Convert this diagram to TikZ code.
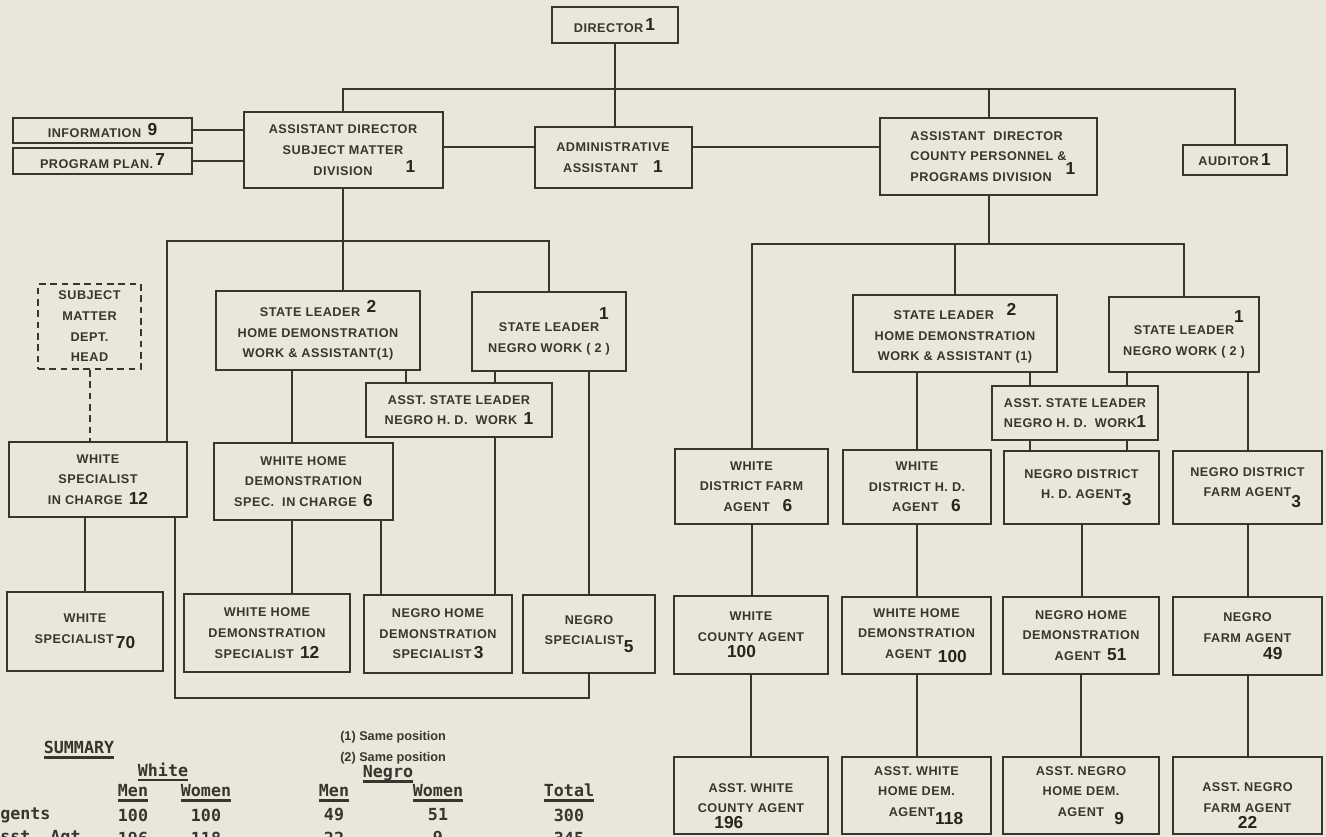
\documentclass[tikz,border=0pt]{standalone}
\usepackage{fontspec}
\setmainfont{Liberation Sans}
\setmonofont{DejaVu Sans Mono}
\newfontfamily\boxfont{Liberation Sans}[LetterSpace=4]
\usepackage{tikz}
\usepackage{xcolor}

\definecolor{paper}{RGB}{234,230,218}
\definecolor{ink}{RGB}{58,52,47}
\definecolor{stamp}{RGB}{40,36,33}

\newcommand{\cnt}[1]{{\normalfont\fontsize{13}{13}\selectfont\bfseries\color{stamp}#1}}
\newcommand{\ulthick}[1]{\setbox0\hbox{#1}\rlap{\rule[-4pt]{\wd0}{2pt}}\box0}
\newcommand{\lowr}{\rule{0pt}{22pt}}

\begin{document}
\begin{tikzpicture}[x=0.75pt, y=-0.75pt,
    box/.style={draw=ink, line width=1.5pt, fill=paper, text=ink, align=center, inner sep=2pt,
        font=\boxfont\fontsize{9.5}{15.5}\selectfont\bfseries},
    sz/.style 2 args={minimum width=#1*0.75pt, minimum height=#2*0.75pt},
    link/.style={draw=ink, line width=1.5pt},
    tab/.style={text=ink, inner sep=0pt, font=\fontsize{12.5}{13}\selectfont\ttfamily\bfseries},
    note/.style={text=ink, inner sep=0pt, anchor=west, font=\fontsize{9.5}{10}\selectfont\bfseries}]
    % page
    \useasboundingbox (0,0) rectangle (1326,837);
    \clip (0,0) rectangle (1326,837);
    \fill[paper] (0,0) rectangle (1326,837);
    % top
    \node[box, sz={126}{36}] (dir) at (614.5,25.5) {DIRECTOR\,\raisebox{1pt}{\cnt{1}}};
    \node[box, sz={179}{25}] (info) at (102.5,130.5) {INFORMATION\enspace\raisebox{2pt}{\cnt{9}}};
    \node[box, sz={179}{26}] (prog) at (102.5,161) {PROGRAM PLAN.\,\raisebox{2pt}{\cnt{7}}};
    \node[box, sz={199}{76}] (smdiv) at (343,150) {ASSISTANT DIRECTOR\\SUBJECT MATTER\\DIVISION\rlap{\hspace{2.6em}\raisebox{2pt}{\cnt{1}}}};
    \node[box, sz={157}{61}] (admin) at (613,157.5) {ADMINISTRATIVE\\ASSISTANT\hspace{1.2em}\cnt{1}};
    \node[box, sz={217}{77}, align=left] (cty) at (988.5,156.5) {ASSISTANT\ \ DIRECTOR\\COUNTY PERSONNEL \&\\PROGRAMS DIVISION\rlap{\hspace{1.1em}\raisebox{5pt}{\cnt{1}}}};
    \node[box, sz={104}{30}] (aud) at (1234.5,160) {AUDITOR\,\cnt{1}};
    % subject matter side
    \node[box, sz={103}{85}, dash pattern=on 5pt off 3.5pt] (smdh) at (89.5,326.5) {SUBJECT\\MATTER\\DEPT.\\HEAD};
    \node[box, sz={204}{79}] (slhdwL) at (318,330.5) {STATE LEADER\enspace\raisebox{3pt}{\cnt{2}}\\HOME DEMONSTRATION\\WORK \&\ ASSISTANT(1)};
    \node[box, sz={154}{79}] (slnwL) at (549,331.5) {STATE LEADER\rlap{\raisebox{9pt}{\cnt{1}}}\\NEGRO WORK ( 2 )};
    \node[box, sz={186}{54}] (aslL) at (459,410) {ASST. STATE LEADER\\NEGRO H. D.\ \ WORK\enspace\cnt{1}};
    \node[box, sz={178}{75}] (wsic) at (98,479.5) {WHITE\\SPECIALIST\\IN CHARGE\enspace\cnt{12}};
    \node[box, sz={179}{77}] (whdsic) at (303.5,481.5) {WHITE HOME\\DEMONSTRATION\\SPEC.\ \ IN CHARGE\enspace\cnt{6}};
    \node[box, sz={156}{79}] (wsp) at (85,631.5) {WHITE\\SPECIALIST\,\raisebox{-4pt}{\cnt{70}}};
    \node[box, sz={166}{78}] (whds) at (267,633) {WHITE HOME\\DEMONSTRATION\\SPECIALIST\enspace\cnt{12}};
    \node[box, sz={148}{78}] (nhds) at (438,634) {NEGRO HOME\\DEMONSTRATION\\SPECIALIST\,\cnt{3}};
    \node[box, sz={132}{78}] (nsp) at (589,634) {NEGRO\\SPECIALIST\raisebox{-6pt}{\cnt{5}}};
    % county side
    \node[box, sz={204}{77}] (slhdwR) at (955,333.5) {STATE LEADER\quad\raisebox{3pt}{\cnt{2}}\\HOME DEMONSTRATION\\WORK \&\ ASSISTANT (1)};
    \node[box, sz={150}{75}] (slnwR) at (1184,334.5) {STATE LEADER\rlap{\raisebox{9pt}{\cnt{1}}}\\NEGRO WORK ( 2 )};
    \node[box, sz={166}{54}] (aslR) at (1075,413) {ASST. STATE LEADER\\NEGRO H. D.\ \ WORK\cnt{1}};
    \node[box, sz={153}{75}] (wdfa) at (751.5,486.5) {WHITE\\DISTRICT FARM\\\hspace*{1em}AGENT\quad\cnt{6}};
    \node[box, sz={148}{74}] (wdhda) at (917,487) {WHITE\\DISTRICT H. D.\\\hspace*{1.5em}AGENT\quad\cnt{6}};
    \node[box, sz={155}{73}] (ndhda) at (1081.5,487.5) {NEGRO DISTRICT\\H. D. AGENT\rlap{\raisebox{-5pt}{\cnt{3}}}};
    \node[box, sz={149}{73}] (ndfa) at (1247.5,487.5) {NEGRO DISTRICT\\FARM AGENT\rlap{\raisebox{-8pt}{\cnt{3}}}};
    \node[box, sz={154}{78}] (wca) at (751,635) {WHITE\\COUNTY AGENT\\[-3pt]\cnt{100}\hspace*{1.5em}};
    \node[box, sz={149}{77}] (whda) at (916.5,635.5) {WHITE HOME\\DEMONSTRATION\\\hspace*{1.5em}AGENT\enspace\raisebox{-3pt}{\cnt{100}}};
    \node[box, sz={156}{77}] (nhda) at (1081,635.5) {NEGRO HOME\\DEMONSTRATION\\\hspace*{1.5em}AGENT\enspace\cnt{51}};
    \node[box, sz={149}{78}] (nfa) at (1247.5,636) {NEGRO\\FARM AGENT\\[-3pt]\hspace*{4em}\cnt{49}};
    \node[box, sz={154}{77}] (awca) at (751,795.5) {\lowr ASST. WHITE\\COUNTY AGENT\\[-4pt]\cnt{196}\hspace*{3.5em}};
    \node[box, sz={149}{77}] (awhda) at (916.5,795.5) {ASST. WHITE\\HOME DEM.\\\hspace*{1.5em}AGENT\raisebox{-6pt}{\cnt{118}}};
    \node[box, sz={156}{77}] (anhda) at (1081,795.5) {ASST. NEGRO\\HOME DEM.\\AGENT\rlap{\hspace{0.8em}\raisebox{-6pt}{\cnt{9}}}};
    \node[box, sz={149}{77}] (anfa) at (1247.5,795.5) {\lowr ASST. NEGRO\\FARM AGENT\\[-3pt]\cnt{22}};
    % top links
    \draw[link] (dir.south) -- (dir.south |- admin.north);
    \draw[link] (smdiv.north) |- (aud.north |- 0,89) -- (aud.north);
    \draw[link] (cty.north) -- (cty.north |- 0,89);
    \draw[link] (info.east) -- (info.east -| smdiv.west);
    \draw[link] (prog.east) -- (prog.east -| smdiv.west);
    \draw[link] (smdiv.east |- 0,147) -- (admin.west |- 0,147);
    \draw[link] (admin.east |- 0,147) -- (cty.west |- 0,147);
    % subject matter links
    \draw[link] (smdiv.south) -- (smdiv.south |- slhdwL.north);
    \draw[link] (167,0 |- wsic.north) |- (slnwL.north |- 0,241) -- (slnwL.north);
    \draw[link, dash pattern=on 5pt off 3.5pt] (smdh.south) -- (smdh.south |- wsic.north);
    \draw[link] (406,0 |- slhdwL.south) -- (406,0 |- aslL.north);
    \draw[link] (495,0 |- slnwL.south) -- (495,0 |- aslL.north);
    \draw[link] (291.5,0 |- slhdwL.south) -- (291.5,0 |- whdsic.north);
    \draw[link] (291.5,0 |- whdsic.south) -- (291.5,0 |- whds.north);
    \draw[link] (381,0 |- whdsic.south) -- (381,0 |- nhds.north);
    \draw[link] (495,0 |- aslL.south) -- (495,0 |- nhds.north);
    \draw[link] (slnwL.south -| nsp.north) -- (nsp.north);
    \draw[link] (wsp.north |- wsic.south) -- (wsp.north);
    \draw[link] (175,0 |- wsic.south) |- (nsp.south |- 0,698) -- (nsp.south);
    % county links
    \draw[link] (cty.south) -- (cty.south |- 0,244);
    \draw[link] (wdfa.north) |- (slnwR.north |- 0,244) -- (slnwR.north);
    \draw[link] (slhdwR.north) -- (slhdwR.north |- 0,244);
    \draw[link] (1030,0 |- slhdwR.south) -- (1030,0 |- aslR.north);
    \draw[link] (1127,0 |- slnwR.south) -- (1127,0 |- aslR.north);
    \draw[link] (1030,0 |- aslR.south) -- (1030,0 |- ndhda.north);
    \draw[link] (1127,0 |- aslR.south) -- (1127,0 |- ndhda.north);
    \draw[link] (wdhda.north |- slhdwR.south) -- (wdhda.north);
    \draw[link] (ndfa.north |- slnwR.south) -- (ndfa.north);
    \foreach \a/\b in {wdfa/wca, wca/awca, wdhda/whda, whda/awhda, ndhda/nhda, nhda/anhda, ndfa/nfa, nfa/anfa}
        \draw[link] (\a.south) -- (\a.south |- \b.north);
    % summary
    \node[note] (n1) at (340,737) {(1) Same position};
    \node[note] (n2) at (340,758) {(2) Same position};
    \node[tab] (summ) at (79,750) {\ulthick{SUMMARY}};
    \node[tab] (wh) at (163,772) {\ulthick{White}};
    \node[tab] (ng) at (388,774) {\ulthick{Negro}};
    \node[tab, anchor=west] (agt) at (-10,815) {Agents};
    \node[tab, anchor=west] (asst) at (-10,838) {Asst. Agt.};
    \foreach \x/\h/\a/\b in {133/Men/100/196, 206/Women/100/118, 334/Men/49/22, 438/Women/51/9, 569/Total/300/345} {
        \node[tab] (h\x) at (\x,793) {\ulthick{\h}};
        \node[tab] (a\x) at (\x,815) {\a};
        \node[tab] (s\x) at (\x,838) {\b};
    }
\end{tikzpicture}
\end{document}
